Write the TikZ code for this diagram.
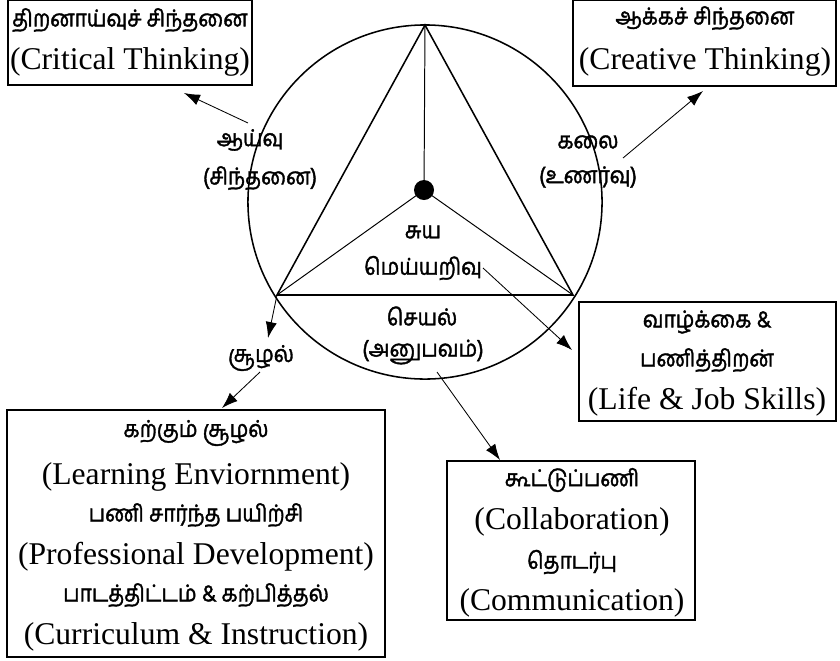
\documentclass[tikz,border=0pt]{standalone}
\usepackage{fontspec}
\setmainfont{Liberation Serif}
\newfontfamily\tamilfont[Script=Tamil, FakeBold=1.6, FakeStretch=0.9]{Hind Madurai}
\usetikzlibrary{arrows.meta, positioning}

\tikzset{
    tam/.style={font=\tamilfont\fontsize{16.5}{19}\selectfont, inner sep=1pt},
    eng/.style={font=\fontsize{22.5}{26}\selectfont, inner sep=1pt},
    boxline/.style={draw, line width=0.8pt},
    arr/.style={-{Latex[length=4mm,width=2.8mm]}, line width=0.6pt}
}

\begin{document}
\begin{tikzpicture}[x=0.025cm, y=-0.025cm]
                    \useasboundingbox (0,0) rectangle (840,660);

                    % circle, triangle and centre
                    \draw[line width=1.1pt] (425,202) circle (4.425cm);
                    \coordinate (top) at (425,25);
                    \coordinate (left) at (277,295);
                    \coordinate (right) at (573,295);
                    \draw[line width=1.1pt] (top) -- (left) -- (right) -- cycle;
                    \node[circle, fill, inner sep=0pt, minimum size=0.5cm] (dot) at (424,190) {};
                    \draw[line width=0.7pt] (dot.center) -- (top);
                    \draw[line width=0.7pt] (dot.center) -- (left);
                    \draw[line width=0.7pt] (dot.center) -- (right);

                    % labels in the circle
                    \node[tam] (suya) at (423,232) {சுய};
                    \node[tam] (mei) at (423,268) {மெய்யறிவு};
                    \node[tam] (seyal) at (422,316) {செயல்};
                    \node[tam] (anu) at (423,352) {(அனுபவம்)};
                    \node[tam] (aayvu) at (250,140) {ஆய்வு};
                    \node[tam] (sinth) at (260,178) {(சிந்தனை)};
                    \node[tam] (kalai) at (588,142) {கலை};
                    \node[tam] (unar) at (588,177) {(உணர்வு)};
                    \node[tam] (soozh) at (261,358) {சூழல்};

                    % boxes
                    \draw[boxline] (8,0) rectangle (252,85);
                    \node[tam] (crit1) at (130,20) {திறனாய்வுச் சிந்தனை};
                    \node[eng] (crit2) at (130,62) {(Critical Thinking)};

                    \draw[boxline] (573,0) rectangle (836,86);
                    \node[tam] (crea1) at (705,18) {ஆக்கச் சிந்தனை};
                    \node[eng] (crea2) at (705,62) {(Creative Thinking)};

                    \draw[boxline] (579,302) rectangle (836,421);
                    \node[tam] (life1) at (707,322) {வாழ்க்கை \&};
                    \node[tam] (life2) at (707,360) {பணித்திறன்};
                    \node[eng] (life3) at (707,402) {(Life \& Job Skills)};

                    \draw[boxline] (447,461) rectangle (695,620);
                    \node[tam] (coll1) at (572,480) {கூட்டுப்பணி};
                    \node[eng] (coll2) at (572,522) {(Collaboration)};
                    \node[tam] (coll3) at (572,562) {தொடர்பு};
                    \node[eng] (coll4) at (572,603) {(Communication)};

                    \draw[boxline] (7,410) rectangle (385,657);
                    \node[tam] (learn1) at (196,433) {கற்கும் சூழல்};
                    \node[eng] (learn2) at (196,477) {(Learning Enviornment)};
                    \node[tam] (learn3) at (196,515) {பணி சார்ந்த பயிற்சி};
                    \node[eng] (learn4) at (196,557) {(Professional Development)};
                    \node[tam] (learn5) at (196,595) {பாடத்திட்டம் \& கற்பித்தல்};
                    \node[eng] (learn6) at (196,637) {(Curriculum \& Instruction)};

                    % arrows
                    \coordinate (a1) at (248,123);
                    \coordinate (t1) at (184,93);
                    \coordinate (a2) at (623,158);
                    \coordinate (t2) at (703,91);
                    \coordinate (t3) at (268,338);
                    \coordinate (a4) at (260,372);
                    \coordinate (t4) at (222,408);
                    \coordinate (a5) at (483,268);
                    \coordinate (t5) at (572,350);
                    \coordinate (a6) at (437,372);
                    \coordinate (t6) at (500,460);
                    \draw[arr] (a1) -- (t1);
                    \draw[arr] (a2) -- (t2);
                    \draw[arr] (left) -- (t3);
                    \draw[arr] (a4) -- (t4);
                    \draw[arr] (a5) -- (t5);
                    \draw[arr] (a6) -- (t6);
                \end{tikzpicture}
\end{document}
